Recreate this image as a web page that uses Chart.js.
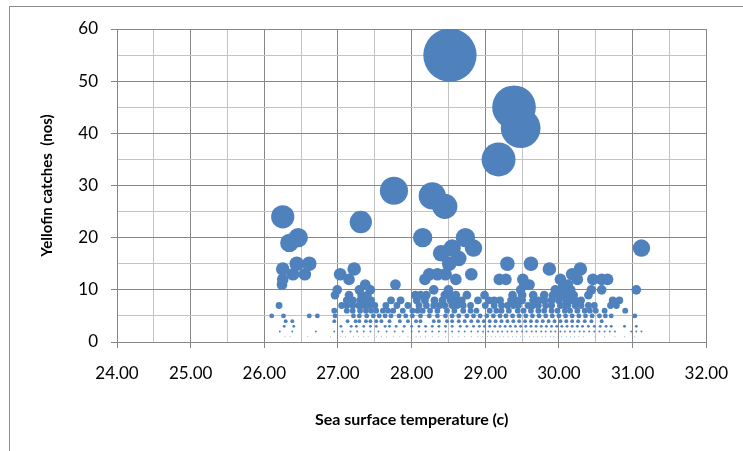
<!DOCTYPE html>
<html>
<head>
<meta charset="utf-8">
<script src="https://cdn.jsdelivr.net/npm/chart.js@4/dist/chart.umd.min.js"></script>
<style>
    html, body { margin: 0; background: #fff; overflow: hidden; }
    #frame { position: absolute; left: 9px; top: 6px; width: 734px; height: 445px; border-left: 1px solid #8c8c8c; border-top: 1px solid #8c8c8c; box-sizing: border-box; z-index: 2; pointer-events: none; }
    #wrap { position: absolute; left: 0; top: 0; width: 743px; height: 451px; z-index: 1; }
</style>
</head>
<body>
<div id="frame"></div>
<div id="wrap"><canvas id="chart" width="743" height="451"></canvas></div>
<script>
// Sea surface temperature of each haul, grouped by how many yellowfin were caught
let sstCatch1 = [26.28, 26.35, 26.59, 26.9, 27.04, 27.1, 27.21, 27.28, 27.35, 27.41, 27.52, 27.59, 27.66, 27.75, 27.84, 27.95, 28.06, 28.12, 28.19, 28.28, 28.37, 28.46, 28.55, 28.64, 28.72, 28.81, 28.9, 28.96, 29.03, 29.08, 29.14, 29.2, 29.25, 29.31, 29.37, 29.42, 29.48, 29.53, 29.6, 29.66, 29.71, 29.77, 29.82, 29.88, 29.93, 29.99, 30.04, 30.1, 30.16, 30.21, 30.27, 30.33, 30.49, 30.62, 30.76, 30.89, 31.03];
let sstCatch2 = [26.21, 26.38, 26.7, 26.95, 27.06, 27.17, 27.26, 27.35, 27.44, 27.55, 27.66, 27.77, 27.88, 28.0, 28.1, 28.19, 28.28, 28.37, 28.46, 28.55, 28.64, 28.72, 28.81, 28.9, 28.97, 29.04, 29.1, 29.17, 29.23, 29.3, 29.36, 29.43, 29.5, 29.56, 29.63, 29.69, 29.76, 29.82, 29.89, 29.95, 30.02, 30.08, 30.15, 30.21, 30.28, 30.34, 30.41, 30.48, 30.55, 30.62, 30.69, 30.76, 30.98, 31.05, 31.12];
let sstCatch3 = [26.27, 26.4, 27.04, 27.18, 27.25, 27.35, 27.44, 27.52, 27.64, 27.7, 27.79, 27.9, 28.0, 28.1, 28.19, 28.28, 28.37, 28.46, 28.55, 28.66, 28.75, 28.84, 28.92, 28.99, 29.06, 29.13, 29.2, 29.27, 29.34, 29.41, 29.48, 29.55, 29.62, 29.69, 29.76, 29.83, 29.9, 29.97, 30.04, 30.11, 30.18, 30.25, 30.32, 30.4, 30.48, 30.56, 30.64, 30.71, 30.89, 31.05];
let sstCatch4 = [26.29, 26.38, 26.95, 27.13, 27.24, 27.29, 27.38, 27.44, 27.52, 27.59, 27.7, 27.84, 27.95, 28.06, 28.12, 28.3, 28.37, 28.48, 28.55, 28.64, 28.72, 28.81, 28.9, 28.98, 29.06, 29.14, 29.22, 29.3, 29.38, 29.46, 29.54, 29.62, 29.7, 29.78, 29.86, 29.94, 30.02, 30.1, 30.18, 30.26, 30.35, 30.44, 30.58];
let sstCatch5 = [26.1, 26.26, 26.61, 26.72, 26.96, 27.21, 27.29, 27.39, 27.48, 27.56, 27.64, 27.72, 27.83, 27.92, 28.01, 28.12, 28.24, 28.35, 28.46, 28.55, 28.64, 28.75, 28.84, 28.93, 29.02, 29.11, 29.2, 29.28, 29.37, 29.46, 29.55, 29.64, 29.73, 29.82, 29.91, 30.0, 30.09, 30.18, 30.27, 30.36, 30.45, 30.55, 30.63, 30.71, 31.03];
let sstCatch6 = [26.95, 27.12, 27.2, 27.3, 27.38, 27.45, 27.52, 27.61, 27.68, 27.75, 27.88, 28.01, 28.08, 28.15, 28.25, 28.35, 28.48, 28.58, 28.7, 28.8, 28.88, 29.06, 29.15, 29.22, 29.32, 29.44, 29.52, 29.62, 29.72, 29.8, 29.9, 29.98, 30.08, 30.15, 30.25, 30.35, 30.42, 30.5, 30.62, 30.9];
let sstCatch7 = [26.2, 27.05, 27.12, 27.2, 27.28, 27.35, 27.42, 27.5, 27.65, 27.8, 27.95, 28.1, 28.2, 28.3, 28.38, 28.45, 28.55, 28.62, 28.7, 28.8, 29.0, 29.12, 29.22, 29.3, 29.38, 29.45, 29.58, 29.65, 29.72, 29.82, 29.9, 30.02, 30.08, 30.12, 30.22, 30.3, 30.4, 30.48, 30.7, 30.78];
let sstCatch8 = [27.12, 27.2, 27.3, 27.38, 27.45, 27.72, 27.85, 28.07, 28.18, 28.31, 28.42, 28.53, 28.6, 28.68, 28.9, 29.05, 29.12, 29.2, 29.35, 29.42, 29.5, 29.65, 29.72, 29.8, 29.9, 30.0, 30.1, 30.18, 30.22, 30.3, 30.73, 30.82];
let sstCatch9 = [26.96, 27.15, 27.32, 27.4, 28.05, 28.12, 28.2, 28.45, 28.52, 28.6, 28.75, 28.99, 29.37, 29.5, 29.65, 29.8, 29.92, 30.02, 30.08, 30.14, 30.2, 30.4];
let sstCatch10 = [26.99, 27.29, 27.44, 28.3, 28.5, 29.48, 29.95, 30.04, 30.1, 30.16, 30.44, 30.58, 31.05];

// Larger hauls, one entry per bubble
let bigSst = [26.24, 27.37, 27.78, 29.53, 29.6, 30.06, 30.12,
    26.25, 27.15, 28.18, 28.6, 29.19, 29.28, 29.51, 30.02, 30.25, 30.46, 30.58, 30.66,
    26.39, 26.55, 27.03, 28.24, 28.35, 28.46, 28.81, 30.18,
    26.25, 27.22, 29.87, 30.29,
    26.44, 26.61, 28.51, 29.3, 29.62,
    28.64, 28.4, 28.55, 28.84, 31.12, 26.34,
    26.46, 28.15, 28.73, 27.31, 26.25, 28.45, 28.28, 27.76,
    29.18, 29.48, 29.39, 28.52];
let bigCatch = [11, 11, 11, 11, 11, 11, 11,
    12, 12, 12, 12, 12, 12, 12, 12, 12, 12, 12, 12,
    13, 13, 13, 13, 13, 13, 13, 13,
    14, 14, 14, 14,
    15, 15, 15, 15, 15,
    16, 17, 18, 18, 18, 19,
    20, 20, 20, 23, 24, 26, 28, 29,
    35, 41, 45, 55];

let xTicks = ['24.00', '25.00', '26.00', '27.00', '28.00', '29.00', '30.00', '31.00', '32.00'];

let smallRows = [sstCatch1, sstCatch2, sstCatch3, sstCatch4, sstCatch5, sstCatch6, sstCatch7, sstCatch8, sstCatch9, sstCatch10];
let points = [];
smallRows.forEach((row, i) => {
    row.forEach(t => points.push({ x: t, y: i + 1 }));
});
bigSst.forEach((t, i) => points.push({ x: t, y: bigCatch[i] }));

let major = '#878787';
let minor = '#c3c3c3';

let ctx = document.getElementById('chart').getContext('2d');
new Chart(ctx, {
    type: 'bubble',
    data: {
        datasets: [{
            data: points,
            backgroundColor: '#4f81bd',
            borderWidth: 0,
            radius: (c) => c.raw ? c.raw.y * 0.485 : 0,
            hoverRadius: 0
        }]
    },
    options: {
        responsive: false,
        animation: false,
        devicePixelRatio: 1,
        layout: { padding: { top: 29, right: 34, left: 0, bottom: 0 } },
        plugins: { legend: { display: false }, tooltip: { enabled: false } },
        scales: {
            x: {
                type: 'linear',
                min: 24,
                max: 32,
                afterFit: (s) => { s.height = 109; },
                border: { color: major, width: 1 },
                grid: {
                    color: (c) => Number.isInteger(c.tick.value) ? major : minor,
                    tickColor: (c) => Number.isInteger(c.tick.value) ? major : 'rgba(0,0,0,0)',
                    tickLength: 6
                },
                ticks: {
                    stepSize: 0.5,
                    autoSkip: false,
                    maxRotation: 0,
                    padding: 15,
                    color: '#000',
                    font: { family: 'Lato', size: 17 },
                    callback: (v) => Number.isInteger(v) ? xTicks[v - 24] : ''
                },
                title: {
                    display: true,
                    text: 'Sea surface temperature (c)',
                    color: '#000',
                    font: { family: 'Lato', size: 16, weight: 'bold' },
                    padding: { top: 0, bottom: 22 }
                }
            },
            y: {
                min: 0,
                max: 60,
                afterFit: (s) => { s.width = 117; },
                border: { color: major, width: 1 },
                grid: {
                    color: (c) => c.tick.value % 10 === 0 ? major : minor,
                    tickColor: (c) => c.tick.value % 10 === 0 ? major : 'rgba(0,0,0,0)',
                    tickLength: 6
                },
                ticks: {
                    stepSize: 5,
                    padding: 13,
                    color: '#000',
                    font: { family: 'Lato', size: 17 },
                    callback: (v) => v % 10 === 0 ? String(v) : ''
                },
                title: {
                    display: true,
                    text: 'Yellofin catches  (nos)',
                    color: '#000',
                    font: { family: 'Lato', size: 15, weight: 'bold' },
                    padding: { top: 38, bottom: 0 }
                }
            }
        }
    }
});
</script>
</body>
</html>
